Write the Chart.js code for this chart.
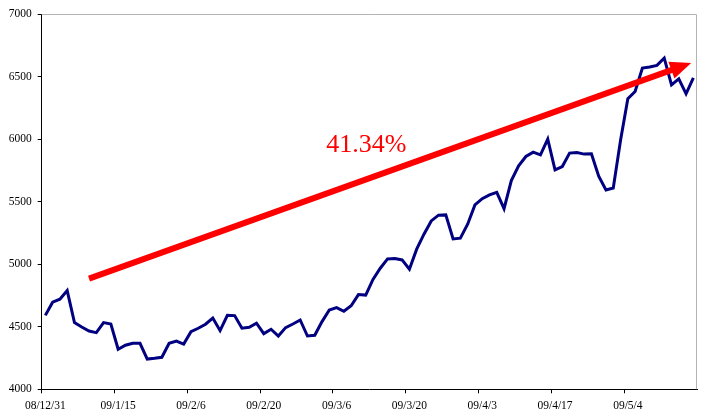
<!DOCTYPE html>
<html>
<head>
<meta charset="utf-8">
<script src="https://cdn.jsdelivr.net/npm/chart.js@4.4.1/dist/chart.umd.min.js"></script>
<style>
  html, body { margin: 0; padding: 0; background: #fff; }
  #wrap { width: 704px; height: 416px; }
</style>
</head>
<body>
<div id="wrap"><canvas id="chart" width="704" height="416"></canvas></div>
<script>
// trading days, 08/12/31 .. 09/5/15
const dates = [
  '08/12/31',
  '09/1/5', '09/1/6', '09/1/7', '09/1/8', '09/1/9', '09/1/10', '09/1/12', '09/1/13', '09/1/14', '09/1/15',
  '09/1/16', '09/1/17', '09/1/19', '09/1/20', '09/1/21', '09/2/2', '09/2/3', '09/2/4', '09/2/5', '09/2/6',
  '09/2/9', '09/2/10', '09/2/11', '09/2/12', '09/2/13', '09/2/16', '09/2/17', '09/2/18', '09/2/19', '09/2/20',
  '09/2/23', '09/2/24', '09/2/25', '09/2/26', '09/2/27', '09/3/2', '09/3/3', '09/3/4', '09/3/5', '09/3/6',
  '09/3/9', '09/3/10', '09/3/11', '09/3/12', '09/3/13', '09/3/16', '09/3/17', '09/3/18', '09/3/19', '09/3/20',
  '09/3/23', '09/3/24', '09/3/25', '09/3/26', '09/3/27', '09/3/30', '09/3/31', '09/4/1', '09/4/2', '09/4/3',
  '09/4/6', '09/4/7', '09/4/8', '09/4/9', '09/4/10', '09/4/13', '09/4/14', '09/4/15', '09/4/16', '09/4/17',
  '09/4/20', '09/4/21', '09/4/22', '09/4/23', '09/4/24', '09/4/27', '09/4/28', '09/4/29', '09/4/30', '09/5/4',
  '09/5/5', '09/5/6', '09/5/7', '09/5/8', '09/5/11', '09/5/12', '09/5/13', '09/5/14', '09/5/15'
];

const index = [
  4591, 4696, 4720, 4789, 4533, 4498, 4466, 4453, 4533, 4522,
  4320, 4352, 4368, 4368, 4242, 4248, 4256, 4368, 4386, 4362,
  4461, 4488, 4520, 4570, 4469, 4592, 4589, 4488, 4496, 4528,
  4445, 4480, 4426, 4493, 4522, 4554, 4426, 4432, 4541, 4634,
  4653, 4624, 4668, 4757, 4753, 4878, 4968, 5042, 5045, 5034,
  4960, 5120, 5240, 5346, 5392, 5394, 5202, 5208, 5320, 5474,
  5524, 5554, 5575, 5444, 5668, 5786, 5861, 5896, 5874, 6000,
  5754, 5781, 5888, 5893, 5880, 5882, 5704, 5594, 5609, 5990,
  6322, 6381, 6568, 6576, 6589, 6648, 6434, 6482, 6362, 6489
];

// labels shown every 10 trading days
const labelEvery = 10;

// trend arrow and its caption, in [category index, value]
const arrowFrom = [6, 4885];
const arrowTo = [88.7, 6608];
const gainText = '41.34%';
const gainAt = [44.1, 5954];

const serif = '"Liberation Serif", "Times New Roman", serif';

const trendArrow = {
  id: 'trendArrow',
  afterDatasetsDraw(chart) {
    const { ctx, chartArea, scales: { x, y } } = chart;
    // gray frame on top and right
    ctx.save();
    ctx.strokeStyle = '#b4b4b4';
    ctx.lineWidth = 1;
    ctx.beginPath();
    ctx.moveTo(chartArea.left, chartArea.top + 0.5);
    ctx.lineTo(chartArea.right - 0.5, chartArea.top + 0.5);
    ctx.lineTo(chartArea.right - 0.5, chartArea.bottom);
    ctx.stroke();

    const x1 = x.getPixelForValue(arrowFrom[0]);
    const y1 = y.getPixelForValue(arrowFrom[1]);
    const x2 = x.getPixelForValue(arrowTo[0]);
    const y2 = y.getPixelForValue(arrowTo[1]);
    const ang = Math.atan2(y2 - y1, x2 - x1);
    const head = 21, half = 9;
    const bx = x2 - head * Math.cos(ang);
    const by = y2 - head * Math.sin(ang);

    ctx.strokeStyle = '#ff0000';
    ctx.fillStyle = '#ff0000';
    ctx.lineWidth = 6;
    ctx.lineCap = 'butt';
    ctx.beginPath();
    ctx.moveTo(x1, y1);
    ctx.lineTo(bx + 2 * Math.cos(ang), by + 2 * Math.sin(ang));
    ctx.stroke();

    ctx.beginPath();
    ctx.moveTo(x2, y2);
    ctx.lineTo(bx + half * Math.sin(ang), by - half * Math.cos(ang));
    ctx.lineTo(bx - half * Math.sin(ang), by + half * Math.cos(ang));
    ctx.closePath();
    ctx.fill();

    ctx.font = '26px ' + serif;
    ctx.textAlign = 'center';
    ctx.textBaseline = 'middle';
    ctx.fillText(gainText, x.getPixelForValue(gainAt[0]), y.getPixelForValue(gainAt[1]));
    ctx.restore();
  }
};

const ctx = document.getElementById('chart').getContext('2d');
new Chart(ctx, {
  type: 'line',
  data: {
    labels: dates,
    datasets: [{
      data: index,
      borderColor: '#000080',
      borderWidth: 3,
      pointRadius: 0,
      tension: 0,
      fill: false,
    }],
  },
  options: {
    responsive: false,
    animation: false,
    events: [],
    layout: { padding: { top: 14, right: 7, left: 0, bottom: 0 } },
    plugins: {
      legend: { display: false },
      tooltip: { enabled: false },
    },
    scales: {
      x: {
        type: 'category',
        offset: true,
        afterFit: (s) => { s.height = 26.7; },
        border: { color: '#000', width: 1 },
        grid: {
          offset: true,
          drawOnChartArea: false,
          tickLength: 4,
          color: (c) => (c.index % labelEvery === 0 ? '#000' : 'rgba(0,0,0,0)'),
        },
        ticks: {
          autoSkip: false,
          maxRotation: 0,
          padding: 6,
          color: '#000',
          font: { family: serif, size: 11.5 },
          callback: (v, i) => (i % labelEvery === 0 ? dates[i] : ''),
        },
      },
      y: {
        min: 4000,
        max: 7000,
        afterFit: (s) => { s.width = 41.7; },
        border: { color: '#000', width: 1 },
        grid: { drawOnChartArea: false, tickLength: 4, color: '#000' },
        ticks: {
          stepSize: 500,
          padding: 6,
          color: '#000',
          font: { family: serif, size: 11.5 },
          callback: (v) => String(v),
        },
      },
    },
  },
  plugins: [trendArrow],
});
</script>
</body>
</html>
